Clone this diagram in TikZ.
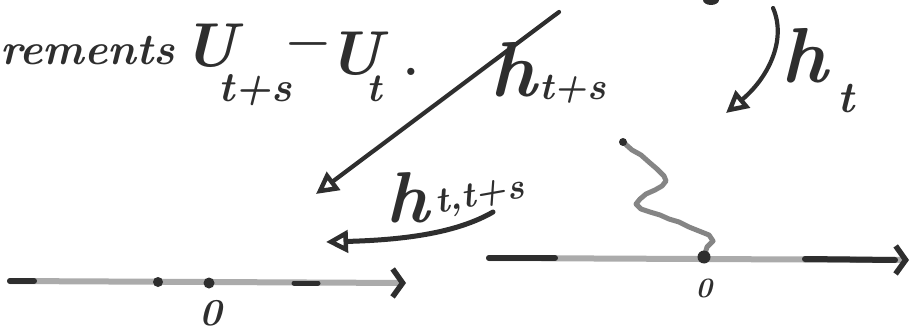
\documentclass[tikz,border=0pt]{standalone}
\usepackage{fontspec}
\usetikzlibrary{arrows.meta}
\definecolor{ink}{HTML}{2E2E2E}
\definecolor{pale}{HTML}{ABABAB}
\definecolor{mid}{HTML}{858585}
\begin{document}
\begin{tikzpicture}[x=1pt,y=-1pt,
  txt/.style={inner sep=0pt, outer sep=0pt, text=ink},
  stroke/.style={draw=ink, line width=5pt, line cap=round, line join=round},
  tip/.style={-{Triangle[open,length=22pt,width=22pt,line width=4.5pt]}},
  axis/.style={draw=pale, line width=6pt, line cap=round,
    -{Straight Barb[color=ink,length=10pt,width=28pt,line width=5.5pt]}},
  darkseg/.style={draw=ink, line width=6pt, line cap=round},
  dot/.style={fill=ink}]
\useasboundingbox (0,0) rectangle (912,331);

% heading text
\node[txt, anchor=base west, font=\fontsize{44}{48}\selectfont\itshape\bfseries] (incr) at (0,65) {rements};
\node[txt, anchor=base west, font=\fontsize{62}{66}\selectfont\itshape\bfseries] (U1) at (182,67) {U};
\node[txt, anchor=base west, font=\fontsize{42}{46}\selectfont\itshape\bfseries] (s1) at (218,102) {t+s};
\node[txt, font=\fontsize{50}{50}\selectfont\bfseries] (minus) at (308,50) {−};
\node[txt, anchor=base west, font=\fontsize{62}{66}\selectfont\itshape\bfseries] (U2) at (327,75) {U};
\node[txt, anchor=base west, font=\fontsize{40}{42}\selectfont\itshape\bfseries] (s2) at (366,102) {t};
\node[txt, anchor=base, font=\fontsize{50}{50}\selectfont\bfseries] (stop) at (411,76) {.};

% labels
\node[txt, anchor=base west, font=\fontsize{78}{80}\selectfont\itshape\bfseries] (h1) at (490,97) {h};
\node[txt, anchor=base west, font=\fontsize{38}{40}\selectfont\itshape\bfseries] (h1s) at (539,100) {t+s};
\node[txt, anchor=base west, font=\fontsize{78}{80}\selectfont\itshape\bfseries] (h2) at (781,83) {h};
\node[txt, anchor=base west, font=\fontsize{44}{46}\selectfont\itshape\bfseries] (h2s) at (837,113) {t};
\node[txt, anchor=base west, font=\fontsize{72}{76}\selectfont\itshape\bfseries] (h3) at (386,222) {h};
\node[txt, anchor=base west, rotate=10, font=\fontsize{36}{40}\selectfont\itshape\bfseries] (h3s) at (437,213) {t,t+s};

% arrows
\coordinate (a1s) at (559,12);
\coordinate (a1e) at (316,194);
\draw[stroke, line width=4.2pt, tip] (a1s) -- (a1e);
\coordinate (a2s) at (773,8);
\coordinate (a2e) at (726,113);
\draw[stroke, line width=4.2pt, tip] (a2s) .. controls (787,40) and (768,78) .. (a2e);
\coordinate (a3s) at (493,212);
\coordinate (a3e) at (326,242);
\draw[stroke, tip] (a3s) .. controls (455,234) and (400,240) .. (a3e);
\fill[ink] (711,0) ellipse (8 and 5);

% left axis
\coordinate (L0) at (10,281);
\coordinate (L1) at (406,283);
\draw[axis] (L0) -- (L1);
\draw[darkseg] (L0) -- (34,281);
\draw[darkseg, line width=5pt] (294,283) -- (318,283);
\coordinate (d1) at (158,282);
\coordinate (d2) at (209,283);
\fill[dot] (d1) circle (5);
\fill[dot] (d2) circle (5.5);
\node[txt, font=\fontsize{38}{40}\selectfont\itshape\bfseries] (zeroL) at (211,313) {0};

% right axis
\coordinate (R0) at (489,258);
\coordinate (R1) at (909,260);
\draw[axis] (R0) -- (R1);
\draw[darkseg] (R0) -- (555,258);
\draw[darkseg] (805,259) -- (895,260);
\coordinate (O2) at (704,257);
\node[txt, font=\fontsize{28}{30}\selectfont\itshape\bfseries] (zeroR) at (704,288) {0};

% random path
\coordinate (Z0) at (623,142);
\draw[draw=mid, line width=5pt, line cap=round, line join=round]
  (Z0) -- (632,150) -- (641,155) -- (650,163) -- (657,169) -- (664,176)
  -- (666,181) -- (662,186) -- (655,190) -- (646,194) -- (640,199) -- (636,204)
  -- (641,209) -- (650,212) -- (660,215) -- (669,219) -- (679,222) -- (689,227)
  -- (699,231) -- (709,235) -- (713,241) -- (707,247) -- (O2);
\fill[dot] (Z0) circle (4);
\fill[dot] (O2) circle (6.5);
\end{tikzpicture}
\end{document}
